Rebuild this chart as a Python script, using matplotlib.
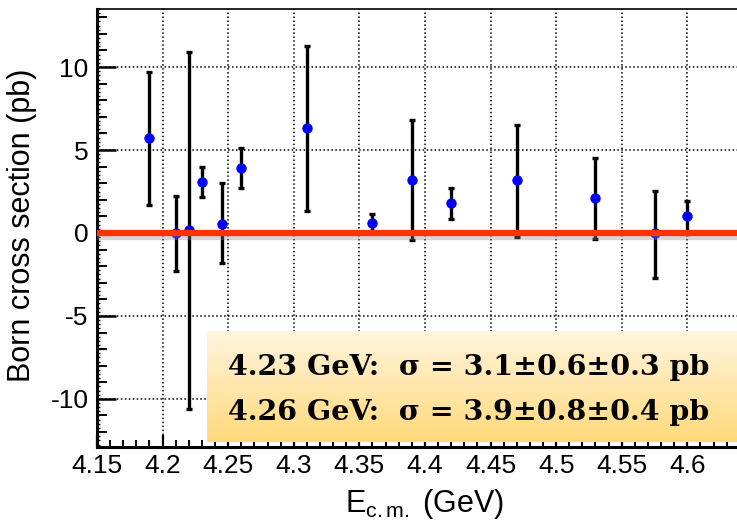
import numpy as np
import matplotlib
matplotlib.use("Agg")
import matplotlib.pyplot as plt
from matplotlib.ticker import MultipleLocator, NullFormatter
import matplotlib.patheffects as pe

# ---- data ----
energy = [4.19, 4.21, 4.22, 4.23, 4.245, 4.26, 4.31, 4.36, 4.39, 4.42, 4.47, 4.53, 4.575, 4.60]
xsec   = [5.7, 0.0, 0.15, 3.1, 0.55, 3.9, 6.3, 0.6, 3.2, 1.8, 3.2, 2.1, 0.0, 1.0]
err_hi = [9.7, 2.2, 10.9, 4.0, 3.0, 5.1, 11.3, 1.15, 6.8, 2.7, 6.5, 4.5, 2.55, 1.95]
err_lo = [1.7, -2.3, -10.6, 2.15, -1.8, 2.7, 1.3, 0.1, -0.45, 0.85, -0.25, -0.35, -2.7, -0.05]
xticks = [4.15, 4.2, 4.25, 4.3, 4.35, 4.4, 4.45, 4.5, 4.55, 4.6]
xtick_labels = ["4.15", "4.2", "4.25", "4.3", "4.35", "4.4", "4.45", "4.5", "4.55", "4.6"]
yticks = [-10, -5, 0, 5, 10]
ytick_labels = ["-10", "-5", "0", "5", "10"]
box_lines = ["4.23 GeV:  \u03c3 = 3.1\u00b10.6\u00b10.3 pb",
             "4.26 GeV:  \u03c3 = 3.9\u00b10.8\u00b10.4 pb"]

plt.rcParams['font.family'] = ['Liberation Sans', 'DejaVu Sans']
plt.rcParams['mathtext.fontset'] = 'custom'
plt.rcParams['mathtext.rm'] = 'Liberation Sans'
plt.rcParams['mathtext.it'] = 'Liberation Sans'
plt.rcParams['axes.unicode_minus'] = False

W, H = 737, 522
fig = plt.figure(figsize=(W/100, H/100), dpi=100)
ax = fig.add_axes([97/W, (H-447)/H, (737-97)/W + 0.01, (447-9)/H])

x = np.array(energy); y = np.array(xsec)
lo = y - np.array(err_lo); hi = np.array(err_hi) - y
ax.errorbar(x, y, yerr=[lo, hi], fmt='none', ecolor='black', elinewidth=2.4,
            capsize=2.5, capthick=2.4, zorder=3)
ax.plot(x, y, 'o', color='#0000ff', markersize=7.5, markeredgewidth=0, zorder=4)

ax.axhline(0, color='#ff3300', linewidth=4.5, zorder=5,
           path_effects=[pe.SimpleLineShadow(offset=(0, -3), shadow_color='#888888', alpha=0.35),
                         pe.Normal()])

ax.set_xlim(4.15, 4.6435)
ax.set_ylim(-12.9, 13.5)
ax.set_xticks(xticks)
ax.set_xticklabels(xtick_labels)
ax.set_yticks(yticks)
ax.set_yticklabels(ytick_labels)
ax.xaxis.set_minor_locator(MultipleLocator(0.01))
ax.yaxis.set_minor_locator(MultipleLocator(1))
ax.tick_params(axis='both', which='both', direction='in', colors='black', labelsize=19)
ax.tick_params(axis='y', which='major', length=14, width=1.8, pad=6)
ax.tick_params(axis='y', which='minor', length=7, width=1.4)
ax.tick_params(axis='x', which='major', length=9, width=1.6, pad=5)
ax.tick_params(axis='x', which='minor', length=5, width=1.4)

sec = ax.secondary_yaxis('left')
sec.yaxis.set_major_locator(MultipleLocator(0.25))
sec.yaxis.set_major_formatter(NullFormatter())
sec.tick_params(direction='in', length=2.2, width=1.0)
sec.spines['left'].set_visible(False)

ax.grid(True, which='major', color='black', linestyle=(0, (1, 1.6)), linewidth=1.1)
ax.set_axisbelow(True)
for s in ['left', 'bottom']:
    ax.spines[s].set_linewidth(2.2)
ax.spines['top'].set_linewidth(1.2)
ax.spines['right'].set_visible(False)

fig.text(22/W, (H-225)/H, 'Born cross section (pb)', fontsize=22, rotation=90,
         ha='center', va='center')
fig.text(424/W, (H-504)/H, r'$\mathrm{E_{c.m.}}$ (GeV)', fontsize=22, ha='center', va='center')

# gradient box
grad = np.linspace(0, 1, 256).reshape(-1, 1)
top = np.array([255, 244, 222]) / 255
bot = np.array([255, 217, 122]) / 255
img = top[None, None, :] * (1 - grad[:, :, None]) + bot[None, None, :] * grad[:, :, None]
bx0, bx1 = 207/W, 1.0
by0, by1 = (H-442)/H, (H-331)/H
bax = fig.add_axes([bx0, by0, bx1-bx0, by1-by0])
bax.imshow(img, aspect='auto', extent=[0, 1, 0, 1])
bax.set_xlim(0, 1); bax.set_ylim(0, 1)
bax.axis('off')
for i, line in enumerate(box_lines):
    bax.text(0.04, [0.67, 0.265][i], line, fontsize=20.5, fontweight='bold',
             family=['DejaVu Serif'], va='center', ha='left')

fig.savefig('out.png', dpi=100)
